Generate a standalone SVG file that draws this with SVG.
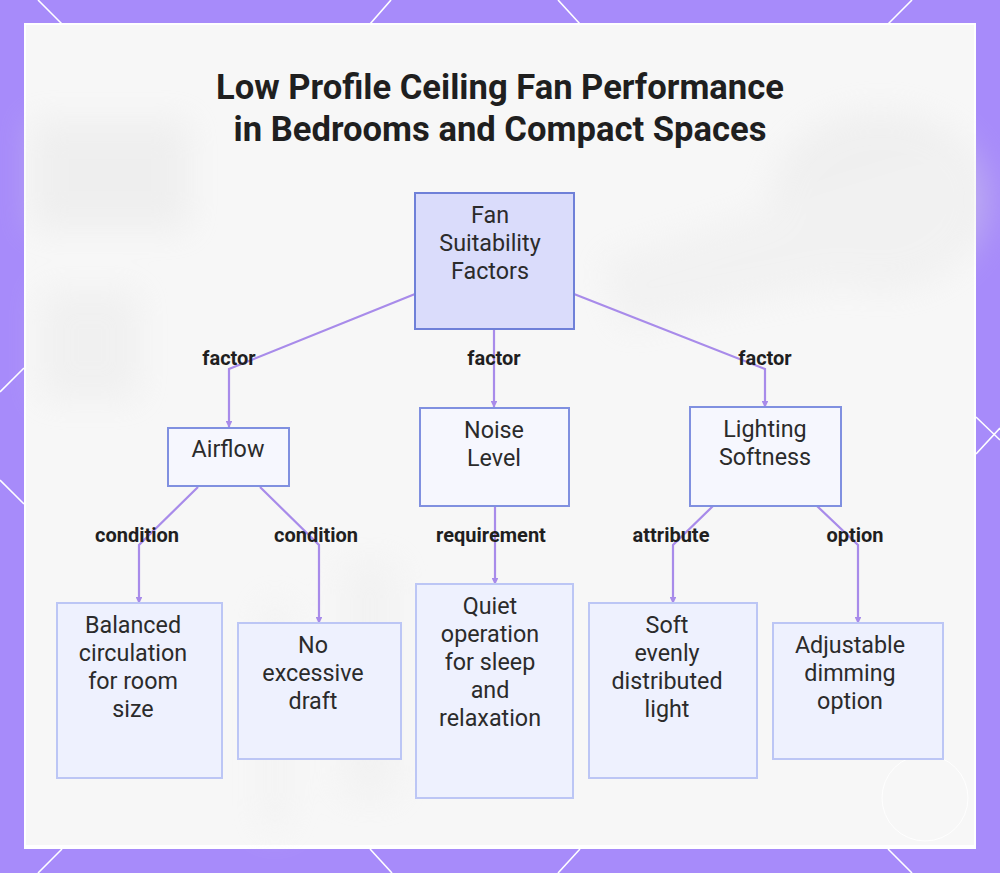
<svg xmlns="http://www.w3.org/2000/svg" width="1000" height="873" viewBox="0 0 1000 873">
  <style>
    .title { font-family: Roboto, "Liberation Sans", sans-serif; font-weight: 700; font-size: 34.6px; fill: #1f1f1f; text-anchor: middle; }
    .ntext { font-family: Roboto, "Liberation Sans", sans-serif; font-size: 23.3px; fill: #2b2b2b; text-anchor: middle; }
    .elabel { font-family: Roboto, "Liberation Sans", sans-serif; font-weight: 700; font-size: 20px; fill: #1f1f1f; text-anchor: middle; }
    .root { fill: #dadcfb; stroke: #6f80d8; stroke-width: 2; }
    .mid { fill: #f6f7fe; stroke: #8090e0; stroke-width: 2; }
    .leaf { fill: #eef1fe; stroke: #bcc6f5; stroke-width: 2; }
    .edge { fill: none; stroke: #a88bea; stroke-width: 2.2; marker-end: url(#arr); }
    .deco { stroke: #ffffff; stroke-width: 1.6; fill: none; }
  </style>
  <defs>
    <marker id="arr" viewBox="0 0 10 10" refX="9" refY="5" markerWidth="3" markerHeight="3" orient="auto">
      <path d="M0,0 L10,5 L0,10 z" fill="#a88bea"/>
    </marker>
    <filter id="blur" x="-20%" y="-20%" width="140%" height="140%">
      <feGaussianBlur stdDeviation="16"/>
    </filter>
  </defs>

  <!-- frame -->
  <rect x="0" y="0" width="1000" height="873" fill="#a78bfa"/>
  <g class="deco">
    <line x1="38" y1="0" x2="62" y2="24"/>
    <line x1="391" y1="0" x2="370" y2="24"/>
    <line x1="558" y1="0" x2="580" y2="24"/>
    <line x1="912" y1="0" x2="888" y2="24"/>
    <line x1="62" y1="849" x2="38" y2="873"/>
    <line x1="370" y1="849" x2="392" y2="873"/>
    <line x1="580" y1="849" x2="558" y2="873"/>
    <line x1="888" y1="849" x2="912" y2="873"/>
    <line x1="0" y1="392" x2="24" y2="368"/>
    <line x1="0" y1="480" x2="24" y2="504"/>
    <line x1="976" y1="417" x2="1000" y2="440"/>
    <line x1="976" y1="454" x2="1000" y2="428"/>
  </g>

  <!-- panel -->
  <rect x="24" y="23" width="952" height="826" fill="#ffffff"/>
  <rect x="26" y="25" width="948" height="820" fill="#f7f7f7"/>
  <g filter="url(#blur)" opacity="0.35">
    <rect x="30" y="120" width="160" height="110" fill="#e0e0e0"/>
    <rect x="40" y="290" width="100" height="110" fill="#e4e4e4"/>
    <ellipse cx="880" cy="200" rx="110" ry="90" fill="#e2e2e2"/>
    <path d="M600 260 L960 150 L960 260 L620 330 z" fill="#e8e8e8"/>
    <rect x="340" y="560" width="60" height="240" fill="#eaeaea"/>
    <rect x="260" y="600" width="30" height="230" fill="#ebebeb"/>
  </g>
  <circle cx="925" cy="798" r="43" fill="none" stroke="#ffffff" stroke-width="1" opacity="0.9"/>

  <!-- title -->
  <text class="title" x="500" y="99">Low Profile Ceiling Fan Performance</text>
  <text class="title" x="500" y="141">in Bedrooms and Compact Spaces</text>

  <!-- connectors -->
  <g id="connectors">
    <polyline class="edge" points="415,294 229,369 229,427"/>
    <polyline class="edge" points="494,330 494,407"/>
    <polyline class="edge" points="574,294 765,369 765,407"/>
    <polyline class="edge" points="198,487 139,545 139,603"/>
    <polyline class="edge" points="260,487 319,545 319,623"/>
    <polyline class="edge" points="495,506 495,584"/>
    <polyline class="edge" points="713,506 673,545 673,603"/>
    <polyline class="edge" points="817,506 858,545 858,623"/>
    <text class="elabel" x="229" y="365">factor</text>
    <text class="elabel" x="494" y="365">factor</text>
    <text class="elabel" x="765" y="365">factor</text>
    <text class="elabel" x="137" y="542">condition</text>
    <text class="elabel" x="316" y="542">condition</text>
    <text class="elabel" x="491" y="542">requirement</text>
    <text class="elabel" x="671" y="542">attribute</text>
    <text class="elabel" x="855" y="542">option</text>
  </g>

  <!-- nodes -->
  <g id="root">
    <rect class="root" x="415" y="193" width="159" height="136"/>
    <text class="ntext" x="490" y="223">Fan</text>
    <text class="ntext" x="490" y="251">Suitability</text>
    <text class="ntext" x="490" y="279">Factors</text>
  </g>
  <g id="airflow">
    <rect class="mid" x="168" y="428" width="121" height="58"/>
    <text class="ntext" x="228" y="457">Airflow</text>
  </g>
  <g id="noise">
    <rect class="mid" x="420" y="408" width="149" height="98"/>
    <text class="ntext" x="494" y="438">Noise</text>
    <text class="ntext" x="494" y="466">Level</text>
  </g>
  <g id="lighting">
    <rect class="mid" x="690" y="407" width="151" height="99"/>
    <text class="ntext" x="765" y="437">Lighting</text>
    <text class="ntext" x="765" y="465">Softness</text>
  </g>
  <g id="balanced">
    <rect class="leaf" x="57" y="603" width="165" height="175"/>
    <text class="ntext" x="133" y="633">Balanced</text>
    <text class="ntext" x="133" y="661">circulation</text>
    <text class="ntext" x="133" y="689">for room</text>
    <text class="ntext" x="133" y="717">size</text>
  </g>
  <g id="draft">
    <rect class="leaf" x="238" y="623" width="163" height="136"/>
    <text class="ntext" x="313" y="653">No</text>
    <text class="ntext" x="313" y="681">excessive</text>
    <text class="ntext" x="313" y="709">draft</text>
  </g>
  <g id="quiet">
    <rect class="leaf" x="416" y="584" width="157" height="214"/>
    <text class="ntext" x="490" y="614">Quiet</text>
    <text class="ntext" x="490" y="642">operation</text>
    <text class="ntext" x="490" y="670">for sleep</text>
    <text class="ntext" x="490" y="698">and</text>
    <text class="ntext" x="490" y="726">relaxation</text>
  </g>
  <g id="soft">
    <rect class="leaf" x="589" y="603" width="168" height="175"/>
    <text class="ntext" x="667" y="633">Soft</text>
    <text class="ntext" x="667" y="661">evenly</text>
    <text class="ntext" x="667" y="689">distributed</text>
    <text class="ntext" x="667" y="717">light</text>
  </g>
  <g id="dimming">
    <rect class="leaf" x="773" y="623" width="170" height="136"/>
    <text class="ntext" x="850" y="653">Adjustable</text>
    <text class="ntext" x="850" y="681">dimming</text>
    <text class="ntext" x="850" y="709">option</text>
  </g>
</svg>
